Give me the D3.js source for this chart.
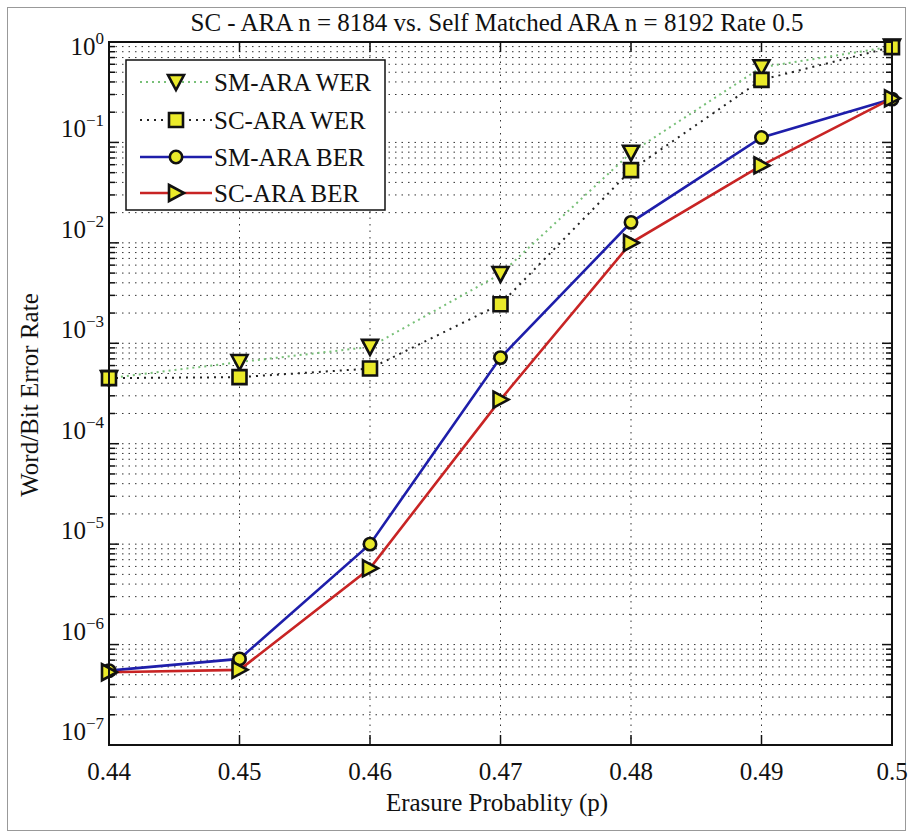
<!DOCTYPE html>
<html>
<head>
<meta charset="utf-8">
<script src="https://cdn.jsdelivr.net/npm/d3@7"></script>
<style>
  body { margin: 0; background: #fff; }
  text { font-family: "Liberation Serif", "Times New Roman", serif; fill: #111; }
</style>
</head>
<body>
<div id="chart"></div>
<script>
// erasure probability on x
const pValues = [0.44, 0.45, 0.46, 0.47, 0.48, 0.49, 0.50];
const xTicks = [0.44, 0.45, 0.46, 0.47, 0.48, 0.49, 0.5];
const xTickLabels = ["0.44", "0.45", "0.46", "0.47", "0.48", "0.49", "0.5"];

// error rates
const smAraWer = [4.5e-4, 6.5e-4, 9.2e-4, 4.9e-3, 7.9e-2, 0.56, 0.9];
const scAraWer = [4.5e-4, 4.6e-4, 5.6e-4, 2.45e-3, 5.3e-2, 0.42, 0.89];
const smAraBer = [5.5e-7, 7.2e-7, 1.0e-5, 7.2e-4, 1.6e-2, 0.112, 0.27];
const scAraBer = [5.3e-7, 5.6e-7, 5.75e-6, 2.75e-4, 1.0e-2, 0.059, 0.275];

const decadeExps = [0, -1, -2, -3, -4, -5, -6, -7];
const seriesNames = ["SM-ARA WER", "SC-ARA WER", "SM-ARA BER", "SC-ARA BER"];

const W = 913, H = 837;
const plot = { left: 109, right: 892, top: 42, bottom: 745 };

const svg = d3.select("#chart").append("svg")
  .attr("width", W)
  .attr("height", H);

// outer frame of the figure
svg.append("rect")
  .attr("x", 7.5).attr("y", 7.5)
  .attr("width", 898).attr("height", 823)
  .attr("fill", "none")
  .attr("stroke", "#999")
  .attr("stroke-width", 1);

const x = d3.scaleLinear().domain([0.44, 0.5]).range([plot.left, plot.right]);
const y = d3.scaleLog().domain([1e-7, 1]).range([plot.bottom, plot.top]);

// grid: every decade plus 2..9 minor lines
const gridVals = [];
for (let k = -7; k <= 0; k++) {
  for (let m = 1; m <= 9; m++) {
    const v = m * Math.pow(10, k);
    if (v <= 1.0000001) gridVals.push(v);
  }
}

const grid = svg.append("g");
grid.selectAll("line.hg")
  .data(gridVals)
  .join("line")
  .attr("x1", plot.left).attr("x2", plot.right)
  .attr("y1", d => y(d)).attr("y2", d => y(d))
  .attr("stroke", "#333")
  .attr("stroke-width", 1)
  .attr("stroke-dasharray", "1.5,5");

grid.selectAll("line.vg")
  .data(xTicks.slice(1, -1))
  .join("line")
  .attr("x1", d => x(d)).attr("x2", d => x(d))
  .attr("y1", plot.top).attr("y2", plot.bottom)
  .attr("stroke", "#333")
  .attr("stroke-width", 1)
  .attr("stroke-dasharray", "1.5,5");

// inward ticks on all four sides
const ticks = svg.append("g").attr("stroke", "#111").attr("stroke-width", 1.5);
gridVals.forEach(v => {
  const major = Math.abs(Math.log10(v) - Math.round(Math.log10(v))) < 1e-9;
  const len = major ? 10 : 6;
  ticks.append("line").attr("x1", plot.left).attr("x2", plot.left + len)
    .attr("y1", y(v)).attr("y2", y(v));
  ticks.append("line").attr("x1", plot.right).attr("x2", plot.right - len)
    .attr("y1", y(v)).attr("y2", y(v));
});
xTicks.forEach(t => {
  ticks.append("line").attr("x1", x(t)).attr("x2", x(t))
    .attr("y1", plot.bottom).attr("y2", plot.bottom - 10);
  ticks.append("line").attr("x1", x(t)).attr("x2", x(t))
    .attr("y1", plot.top).attr("y2", plot.top + 10);
});

// series lines
const line = d3.line()
  .x((d, i) => x(pValues[i]))
  .y(d => y(d));

const series = [
  { name: seriesNames[0], values: smAraWer, color: "#78c078", dash: "2,4", width: 2, marker: "down" },
  { name: seriesNames[1], values: scAraWer, color: "#222", dash: "2,5", width: 2, marker: "square" },
  { name: seriesNames[2], values: smAraBer, color: "#1e1eaa", dash: null, width: 2.6, marker: "circle" },
  { name: seriesNames[3], values: scAraBer, color: "#c82424", dash: null, width: 2.6, marker: "right" }
];

const markerPath = {
  down: "M-8,-7L8,-7L0,8Z",
  right: "M-7,-8L8,0L-7,8Z",
  square: "M-7,-7L7,-7L7,7L-7,7Z",
  circle: d3.symbol(d3.symbolCircle, 120)()
};

function drawMarker(g, type, cx, cy) {
  g.append("path")
    .attr("d", markerPath[type])
    .attr("transform", `translate(${cx},${cy})`)
    .attr("fill", "#eaea2a")
    .attr("stroke", "#111")
    .attr("stroke-width", 2.6)
    .attr("stroke-linejoin", "miter");
}

series.forEach(s => {
  const g = svg.append("g");
  g.append("path")
    .datum(s.values)
    .attr("d", line)
    .attr("fill", "none")
    .attr("stroke", s.color)
    .attr("stroke-width", s.width)
    .attr("stroke-dasharray", s.dash);
  s.values.forEach((v, i) => drawMarker(g, s.marker, x(pValues[i]), y(v)));
});

// axes box
svg.append("rect")
  .attr("x", plot.left).attr("y", plot.top)
  .attr("width", plot.right - plot.left).attr("height", plot.bottom - plot.top)
  .attr("fill", "none")
  .attr("stroke", "#111")
  .attr("stroke-width", 2);

// x tick labels
svg.append("g").selectAll("text")
  .data(xTicks)
  .join("text")
  .attr("x", d => x(d))
  .attr("y", 780)
  .attr("text-anchor", "middle")
  .attr("font-size", 25)
  .text((d, i) => xTickLabels[i]);

// y tick labels 10^k (sit a little above the decade line, like the original)
const yl = svg.append("g");
decadeExps.forEach(e => {
  const base = e === 0 ? y(1) + 13 : y(Math.pow(10, e)) - 5;
  const t = yl.append("text")
    .attr("x", 104)
    .attr("y", base)
    .attr("text-anchor", "end")
    .attr("font-size", 25);
  t.append("tspan").text("10");
  t.append("tspan").attr("dy", -11).attr("font-size", 17)
    .text(e === 0 ? "0" : "\u2212" + Math.abs(e));
});

// title and axis labels
svg.append("text")
  .attr("x", 497).attr("y", 31)
  .attr("text-anchor", "middle")
  .attr("font-size", 25)
  .text("SC - ARA n = 8184 vs. Self Matched ARA n = 8192 Rate 0.5");

svg.append("text")
  .attr("x", 497).attr("y", 811)
  .attr("text-anchor", "middle")
  .attr("font-size", 25)
  .text("Erasure Probablity (p)");

svg.append("text")
  .attr("transform", "translate(38,395) rotate(-90)")
  .attr("text-anchor", "middle")
  .attr("font-size", 25)
  .text("Word/Bit Error Rate");

// legend
const lg = svg.append("g");
lg.append("rect")
  .attr("x", 126).attr("y", 60)
  .attr("width", 259).attr("height", 150)
  .attr("fill", "#fff")
  .attr("stroke", "#111")
  .attr("stroke-width", 1.5);

const legendY = [82, 120, 157, 193];
series.forEach((s, i) => {
  lg.append("line")
    .attr("x1", 140).attr("x2", 212)
    .attr("y1", legendY[i]).attr("y2", legendY[i])
    .attr("stroke", s.color)
    .attr("stroke-width", s.width)
    .attr("stroke-dasharray", s.dash);
  drawMarker(lg, s.marker, 176, legendY[i]);
  lg.append("text")
    .attr("x", 214)
    .attr("y", legendY[i])
    .attr("dy", "0.35em")
    .attr("font-size", 25)
    .text(s.name);
});
</script>
</body>
</html>
